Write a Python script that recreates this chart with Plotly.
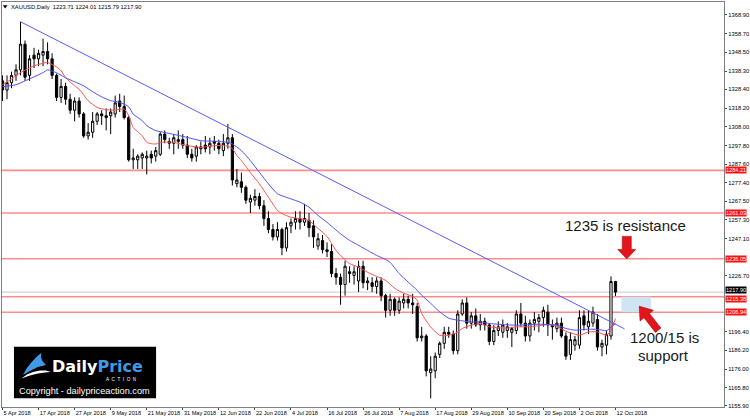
import plotly.graph_objects as go

# ---------------- data ----------------
tick_labels = ["5 Apr 2018", "17 Apr 2018", "27 Apr 2018", "9 May 2018", "21 May 2018",
               "31 May 2018", "12 Jun 2018", "22 Jun 2018", "4 Jul 2018", "16 Jul 2018",
               "26 Jul 2018", "7 Aug 2018", "17 Aug 2018", "29 Aug 2018", "10 Sep 2018",
               "20 Sep 2018", "2 Oct 2018", "12 Oct 2018"]
tick_bars = [0, 8, 16, 24, 32, 40, 48, 56, 64, 72, 80, 88, 96, 104, 112, 120, 128, 136]

opens = [1333, 1328, 1332, 1336, 1339, 1353, 1336, 1347, 1345, 1347, 1349, 1345, 1336, 1324, 1330,
         1323, 1317, 1322, 1315, 1303, 1305, 1311, 1315, 1314, 1314, 1315, 1322, 1319, 1313, 1290,
         1290, 1291, 1291, 1293, 1292, 1293, 1304, 1299, 1299, 1300, 1301, 1298, 1293, 1292, 1296,
         1298, 1297, 1300, 1299, 1295, 1299, 1302, 1277, 1278, 1275, 1267, 1268, 1270, 1265, 1258,
         1252, 1248, 1252, 1242, 1254, 1256, 1258, 1256, 1257, 1254, 1243, 1246, 1241, 1240, 1228,
         1226, 1222, 1229, 1227, 1224, 1232, 1223, 1223, 1221, 1224, 1216, 1208, 1214, 1208, 1212,
         1214, 1212, 1210, 1193, 1194, 1174, 1175, 1184, 1190, 1196, 1195, 1186, 1206, 1212, 1201,
         1205, 1200, 1202, 1200, 1191, 1197, 1196, 1197, 1196, 1197, 1206, 1201, 1194, 1201, 1202,
         1204, 1207, 1200, 1198, 1201, 1194, 1184, 1189, 1189, 1205, 1199, 1201, 1203, 1188, 1189,
         1194, 1223.71]
highs = [1336, 1336, 1338, 1342, 1365.2, 1355, 1347, 1351, 1350, 1356, 1354, 1348, 1337, 1334, 1332,
         1326, 1324, 1324, 1316, 1310, 1316, 1316, 1317, 1318, 1318, 1325, 1326, 1325, 1314, 1296,
         1293, 1294, 1295, 1295, 1297, 1305, 1306, 1302, 1304, 1306, 1304, 1303, 1296, 1298, 1300,
         1303, 1302, 1303, 1301, 1304, 1309.5, 1304, 1285, 1283, 1276, 1271, 1274, 1272, 1268, 1262,
         1255, 1256, 1253, 1256, 1258, 1262, 1262, 1266, 1261, 1257, 1250, 1249, 1245, 1244, 1231,
         1228, 1235, 1232, 1232, 1235, 1235, 1226, 1226, 1226, 1226, 1217, 1217, 1215, 1215, 1217,
         1216, 1217, 1212, 1199, 1195, 1183, 1185, 1191, 1199, 1199, 1197, 1208, 1214, 1215, 1207,
         1209, 1206, 1204, 1201, 1200, 1202, 1203, 1201, 1199, 1208, 1212, 1205, 1203, 1207, 1206,
         1210, 1211, 1203, 1204, 1204, 1196, 1196, 1194, 1208, 1208, 1208, 1210, 1206, 1192, 1197,
         1226.5, 1224.01]
lows = [1322, 1323, 1329, 1333, 1336, 1333, 1333, 1340, 1341, 1341, 1342, 1334, 1322, 1321, 1320,
        1315, 1311, 1313, 1302, 1301, 1302, 1309, 1309, 1306, 1304, 1313, 1316, 1312, 1289, 1285,
        1285, 1285, 1282, 1288, 1289, 1292, 1299, 1296, 1293, 1296, 1296, 1291, 1289, 1289, 1293,
        1294, 1293, 1295, 1293, 1292, 1296, 1276, 1275, 1272, 1266, 1261, 1265, 1263, 1254, 1250,
        1246, 1246, 1238, 1240, 1250, 1252, 1252, 1254, 1248, 1242, 1241, 1239, 1237, 1226, 1222,
        1211, 1216, 1223, 1222, 1218, 1220, 1219, 1218, 1217, 1213, 1204, 1205, 1205, 1206, 1209,
        1209, 1206, 1191, 1191, 1172, 1160, 1171, 1182, 1187, 1193, 1184, 1184, 1205, 1198, 1198,
        1199, 1197, 1197, 1189, 1189, 1194, 1193, 1193, 1188, 1195, 1199, 1191, 1191, 1197, 1196,
        1199, 1194, 1192, 1196, 1193, 1181, 1181, 1186, 1187, 1197, 1195, 1199, 1186, 1183, 1184,
        1192, 1215.79]
closes = [1328, 1332, 1336, 1339, 1353, 1335, 1345, 1345, 1348, 1349, 1345, 1336, 1324, 1330, 1323,
          1317, 1322, 1315, 1303, 1305, 1311, 1315, 1314, 1313, 1316, 1321, 1319, 1313, 1290, 1291,
          1292, 1293, 1292, 1291, 1295, 1304, 1301, 1300, 1302, 1301, 1298, 1293, 1291, 1297, 1297,
          1296, 1299, 1299, 1296, 1299, 1302, 1279, 1279, 1275, 1268, 1269, 1270, 1265, 1258, 1252,
          1248, 1252, 1242, 1253, 1256, 1258, 1256, 1258, 1253, 1248, 1247, 1241, 1240, 1228, 1226,
          1222, 1232, 1228, 1229, 1232, 1223, 1224, 1221, 1224, 1216, 1208, 1214, 1208, 1213, 1214,
          1212, 1211, 1193, 1194, 1175, 1176, 1183, 1190, 1196, 1195, 1186, 1206, 1212, 1201, 1205,
          1200, 1202, 1200, 1191, 1197, 1199, 1200, 1199, 1198, 1206, 1201, 1194, 1201, 1203, 1204,
          1208, 1200, 1199, 1201, 1194, 1183, 1192, 1192, 1204, 1200, 1202, 1207, 1188, 1190, 1195,
          1223.7, 1217.90]
bars = list(range(len(closes)))

red_ma_bars = [0, 2, 4, 7, 9, 10, 12, 13, 14, 16, 17, 19, 21, 23, 25, 27, 28, 29, 30, 31, 32, 33,
               34, 35, 38, 41, 44, 47, 49, 50, 51, 52, 53, 54, 55, 57, 59, 61, 62, 64, 66, 68, 70,
               72, 74, 75, 77, 79, 81, 83, 85, 87, 89, 91, 92, 93, 95, 97, 99, 101, 102, 104, 106,
               108, 110, 112, 114, 116, 118, 120, 121, 123, 125, 127, 128, 130, 132, 134, 135, 136]
red_ma = [1330.9, 1334.0, 1337.5, 1341.2, 1342.6, 1343.0, 1340.6, 1338.5, 1334.8, 1330.3, 1328.5,
          1322.2, 1318.5, 1317.3, 1317.0, 1317.7, 1314.0, 1307.6, 1305.3, 1303.1, 1299.5, 1298.8,
          1298.6, 1299.5, 1299.5, 1297.7, 1296.8, 1297.7, 1297.7, 1297.4, 1296.1, 1292.3, 1289.5,
          1286.3, 1283.0, 1276.9, 1269.6, 1262.4, 1260.7, 1258.7, 1257.9, 1256.9, 1252.6, 1248.2,
          1240.6, 1237.9, 1233.4, 1231.6, 1228.7, 1226.5, 1224.3, 1220.0, 1217.3, 1215.6, 1213.5,
          1206.2, 1198.9, 1194.4, 1194.4, 1196.1, 1198.1, 1199.9, 1200.8, 1199.0, 1198.5, 1198.3,
          1199.0, 1199.0, 1199.3, 1199.9, 1200.2, 1199.3, 1196.6, 1195.0, 1194.4, 1196.2, 1196.2,
          1194.4, 1197.2, 1203.5]
blue_ma_bars = [0, 3, 5, 7, 9, 10, 12, 14, 16, 18, 20, 22, 24, 26, 28, 29, 31, 32, 34, 36, 41, 44,
                47, 50, 51, 53, 55, 57, 59, 61, 64, 66, 68, 70, 72, 75, 77, 79, 81, 83, 85, 86, 88,
                90, 92, 93, 95, 97, 99, 101, 104, 106, 108, 110, 114, 119, 123, 125, 127, 130, 132,
                134, 135, 136]
blue_ma = [1329.8, 1330.9, 1333.0, 1335.2, 1337.5, 1339.0, 1337.4, 1334.7, 1332.5, 1330.3, 1327.1,
           1324.3, 1322.2, 1321.3, 1318.9, 1314.9, 1311.3, 1308.6, 1305.9, 1304.9, 1302.2, 1300.4,
           1300.1, 1299.5, 1298.6, 1295.0, 1289.5, 1283.2, 1276.9, 1271.5, 1268.7, 1266.9, 1264.2,
           1259.7, 1255.9, 1249.7, 1246.1, 1243.4, 1240.6, 1237.9, 1235.7, 1234.1, 1228.0, 1223.4,
           1218.9, 1216.2, 1211.8, 1207.1, 1203.7, 1202.6, 1201.7, 1201.7, 1200.8, 1200.4, 1199.9,
           1200.4, 1199.9, 1198.1, 1197.2, 1197.7, 1197.6, 1196.9, 1198.8, 1200.8]

trend_bars = [4, 138]
trend_prices = [1365.2, 1197.9]
levels = [1284.21, 1261.03, 1236.05, 1215.38, 1206.94]
bid = 1217.90
zone_bars = [137.3, 143.9]
zone_prices = [1206.94, 1215.38]
ytick_vals = [1368.90, 1358.70, 1348.50, 1338.30, 1328.40, 1318.20, 1308.00, 1297.80, 1287.60,
              1277.40, 1267.50, 1257.30, 1247.10, 1226.70, 1196.40, 1186.20, 1176.00, 1165.80,
              1155.90]
title_text = "XAUUSD,Daily  1223.71 1224.01 1215.79 1217.90"

# ---------------- layout helpers ----------------
W, H = 750, 420
ML, MR, MT, MB = 2, 24, 1, 13
FONT = "Liberation Sans"


def PX(px):
    return (px - ML) / (W - ML - MR)


def PY(py):
    return (H - MB - py) / (H - MT - MB)


def path(points):
    s = "M " + " L ".join(f"{PX(x):.5f},{PY(y):.5f}" for x, y in points) + " Z"
    return s


fig = go.Figure()

fig.add_trace(go.Candlestick(
    x=bars, open=opens, high=highs, low=lows, close=closes,
    increasing=dict(line=dict(color="black", width=1), fillcolor="white"),
    decreasing=dict(line=dict(color="black", width=1), fillcolor="black"),
    whiskerwidth=0, showlegend=False, hoverinfo="skip"))

fig.add_trace(go.Scatter(x=red_ma_bars, y=red_ma, mode="lines",
                         line=dict(color="#ff5050", width=1, shape="spline", smoothing=0.6),
                         showlegend=False, hoverinfo="skip"))
fig.add_trace(go.Scatter(x=blue_ma_bars, y=blue_ma, mode="lines",
                         line=dict(color="#5050ff", width=1, shape="spline", smoothing=0.6),
                         showlegend=False, hoverinfo="skip"))
fig.add_trace(go.Scatter(x=trend_bars, y=trend_prices, mode="lines",
                         line=dict(color="#5a5aff", width=1),
                         showlegend=False, hoverinfo="skip"))

shapes = []
# bid line
shapes.append(dict(type="line", xref="paper", x0=0, x1=1, yref="y", y0=bid, y1=bid,
                   line=dict(color="#c8c8c8", width=1), layer="below"))
for lv in levels:
    shapes.append(dict(type="line", xref="paper", x0=0, x1=1, yref="y", y0=lv, y1=lv,
                       line=dict(color="#ff8c8c", width=1.6), layer="below"))
# support zone
shapes.append(dict(type="rect", xref="x", yref="y", x0=zone_bars[0], x1=zone_bars[1],
                   y0=zone_prices[0], y1=zone_prices[1], fillcolor="#cfe5f3",
                   line=dict(width=0), layer="below"))
# red down arrow
shapes.append(dict(type="path", xref="paper", yref="paper",
                   path=path([(624, 236), (633, 236), (633, 249), (637.5, 249), (628.5, 258.5),
                              (619.5, 249), (624, 249)]),
                   fillcolor="#e3141b", line=dict(color="#a80000", width=0.6)))
# red up-left arrow
shapes.append(dict(type="path", xref="paper", yref="paper",
                   path=path([(641, 306), (655.2, 310.1), (651.2, 313.2), (662.7, 327.8),
                              (657.3, 332.2), (645.8, 317.6), (641.8, 320.7)]),
                   fillcolor="#e3141b", line=dict(color="#a80000", width=0.6)))
# logo box
shapes.append(dict(type="rect", xref="paper", yref="paper", x0=PX(14), x1=PX(156.5),
                   y0=PY(398.3), y1=PY(346.7), fillcolor="black", line=dict(width=0)))
# logo swoosh
shapes.append(dict(type="path", xref="paper", yref="paper",
                   path=path([(23, 375), (27, 368), (31, 363), (36, 357.5), (41.5, 352.5),
                              (41, 357), (42.5, 361), (46, 365), (38, 367), (30, 371)]),
                   fillcolor="#3d9be9", line=dict(width=0)))
shapes.append(dict(type="path", xref="paper", yref="paper",
                   path=path([(21.5, 378.5), (27, 374.5), (33, 372), (40, 370.5), (46, 370.5),
                              (51, 372), (45, 372.5), (38, 373.5), (30, 375.5)]),
                   fillcolor="white", line=dict(width=0)))
# title triangle
shapes.append(dict(type="path", xref="paper", yref="paper",
                   path=path([(2.8, 4.2), (7.6, 4.2), (5.2, 7.6)]),
                   fillcolor="black", line=dict(width=0)))

ann = []
ann.append(dict(xref="paper", yref="paper", x=PX(9), y=PY(6), xanchor="left", yanchor="middle",
                text=title_text, showarrow=False, font=dict(family=FONT, size=5.8, color="black")))
# right-axis price labels (bid label nudged up, nearby level label nudged down)
ann.append(dict(xref="paper", yref="y", x=1, y=bid, xanchor="left", yanchor="middle", xshift=1,
                yshift=2, text=f"{bid:.2f}", showarrow=False, bgcolor="black", borderpad=0,
                font=dict(family=FONT, size=5.6, color="white")))
for lv in levels:
    ann.append(dict(xref="paper", yref="y", x=1, y=lv, xanchor="left", yanchor="middle", xshift=1,
                    yshift=(-2 if abs(lv - bid) < 5 else 0),
                    text=f"{lv:.2f}", showarrow=False, bgcolor="#ff1010", borderpad=0,
                    font=dict(family=FONT, size=5.6, color="white")))
# commentary
ann.append(dict(xref="paper", yref="paper", x=PX(627.5), y=PY(225), xanchor="center",
                yanchor="middle", text="1235 is resistance", showarrow=False,
                font=dict(family=FONT, size=15, color="#1a1a1a")))
ann.append(dict(xref="paper", yref="paper", x=PX(666.5), y=PY(337), xanchor="center",
                yanchor="middle", text="1200/15 is", showarrow=False,
                font=dict(family=FONT, size=15, color="#1a1a1a")))
ann.append(dict(xref="paper", yref="paper", x=PX(665), y=PY(355.5), xanchor="center",
                yanchor="middle", text="support", showarrow=False,
                font=dict(family=FONT, size=15, color="#1a1a1a")))
# logo texts
ann.append(dict(xref="paper", yref="paper", x=PX(50.5), y=PY(366), xanchor="left",
                yanchor="middle", text="<b>Daily<span style='color:#3d9be9'>Price</span></b>",
                showarrow=False, font=dict(family="DejaVu Sans", size=16, color="white")))
ann.append(dict(xref="paper", yref="paper", x=PX(121), y=PY(379), xanchor="center",
                yanchor="middle", text="\u00a0\u00a0".join("ACTION"), showarrow=False,
                font=dict(family=FONT, size=4.6, color="white")))
ann.append(dict(xref="paper", yref="paper", x=PX(85), y=PY(390.5), xanchor="center",
                yanchor="middle", text="Copyright - dailypriceaction.com", showarrow=False,
                font=dict(family=FONT, size=9.2, color="white")))

fig.update_layout(
    width=W, height=H, margin=dict(l=ML, r=MR, t=MT, b=MB),
    paper_bgcolor="white", plot_bgcolor="white",
    shapes=shapes, annotations=ann, showlegend=False,
    xaxis=dict(range=[-0.11, 160.07], rangeslider=dict(visible=False), showgrid=False,
               zeroline=False, tickmode="array", tickvals=tick_bars, ticktext=tick_labels,
               ticks="outside", ticklen=2, tickcolor="#444", ticklabelposition="outside right",
               tickangle=0, tickfont=dict(family=FONT, size=5.6, color="black"),
               showline=True, linecolor="#808080", linewidth=1.2, mirror=True, fixedrange=True),
    yaxis=dict(range=[1155.31, 1375.97], side="right", showgrid=False, zeroline=False,
               tickmode="array", tickvals=ytick_vals, tickformat=".2f",
               ticks="outside", ticklen=2, tickcolor="#444",
               tickfont=dict(family=FONT, size=5.8, color="black"),
               showline=True, linecolor="#808080", linewidth=1.2, mirror=True, fixedrange=True),
)

fig.write_html("out.html")
